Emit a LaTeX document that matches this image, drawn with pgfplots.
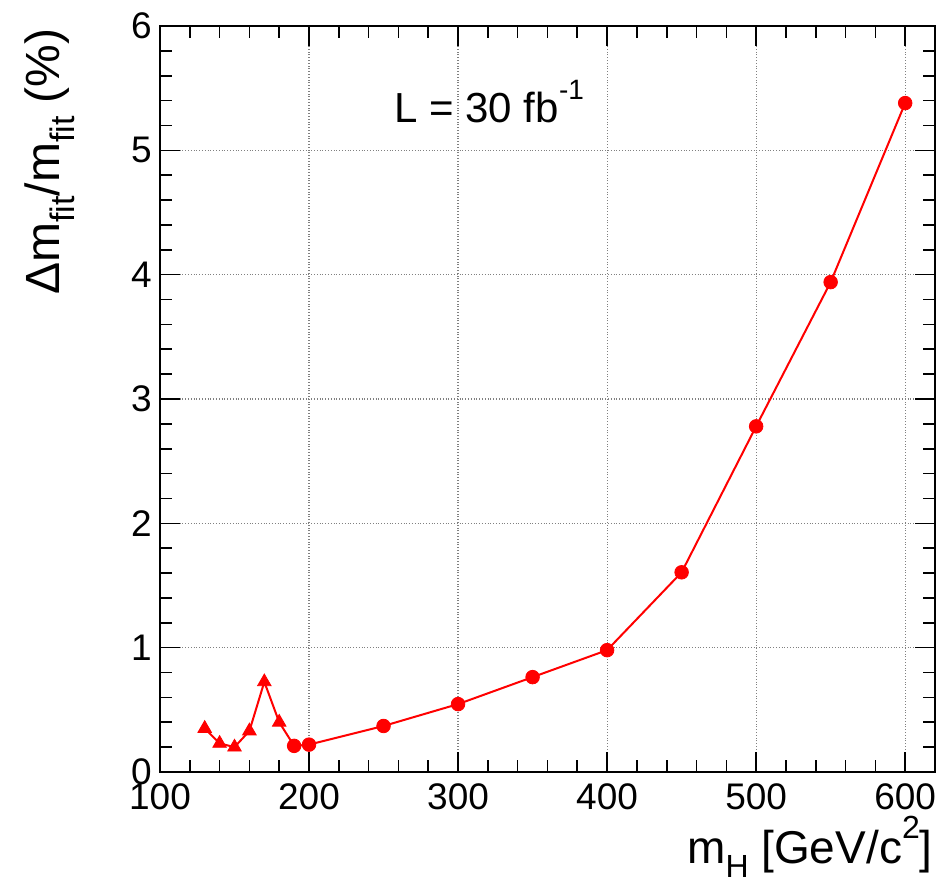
\documentclass[border=0pt]{standalone}
\usepackage{pgfplots}
\pgfplotsset{compat=1.18}
\usepackage{fontspec}
\setmainfont{Liberation Sans}
\newcommand\subs[2]{\raisebox{-0.3em}{\fontsize{#2}{#2}\selectfont #1}}
\newcommand\sups[2]{\raisebox{0.55em}{\fontsize{#2}{#2}\selectfont #1}}
\begin{document}
\begin{tikzpicture}
\useasboundingbox (-80pt,-54.5pt) rectangle (394.5pt,386pt);
\begin{axis}[
  at={(0,0)}, anchor=south west,
  scale only axis, width=387.5pt, height=373pt,
  xmin=100, xmax=620, ymin=0, ymax=6,
  xtick={100,200,...,600}, ytick={0,1,...,6},
  minor x tick num=4, minor y tick num=4,
  tick pos=both, tick align=inside,
  major tick length=10pt, minor tick length=6pt,
  every tick/.style={black, line width=0.8pt},
  axis line style={black, line width=1pt},
  grid=major,
  major grid style={densely dotted, gray, line width=0.6pt},
  /pgf/number format/assume math mode=true,
  xticklabel style={font=\fontsize{18.5}{18.5}\selectfont, inner sep=0pt, yshift=-5.5pt},
  yticklabel style={font=\fontsize{18.5}{18.5}\selectfont, inner sep=0pt, xshift=-4pt},
  clip=false,
]
\addplot[red, line width=1pt, no marks] coordinates {
 (130,0.35) (140,0.23) (150,0.20) (160,0.33) (170,0.725) (180,0.40)
 (190,0.21) (200,0.22) (250,0.37) (300,0.546) (350,0.763) (400,0.98)
 (450,1.606) (500,2.78) (550,3.94) (600,5.38)
};
\addplot[red, only marks, mark=triangle*, mark size=3.9pt] coordinates {
 (130,0.35) (140,0.23) (150,0.20) (160,0.33) (170,0.725) (180,0.40)
};
\addplot[red, only marks, mark=*, mark size=3.4pt] coordinates {
 (190,0.21) (200,0.22) (250,0.37) (300,0.546) (350,0.763) (400,0.98)
 (450,1.606) (500,2.78) (550,3.94) (600,5.38)
};
\node[anchor=base west, inner sep=0pt, font=\fontsize{21}{21}\selectfont] at (axis cs:257,5.22) {L = 30 fb\sups{-1}{14}};
\node[anchor=base east, inner sep=0pt, font=\fontsize{23}{23}\selectfont] at ([xshift=-1pt,yshift=-46pt]rel axis cs:1,0) {m\subs{H}{16} [GeV/c\sups{2}{16}]};
\node[rotate=90, anchor=base east, inner sep=0pt, font=\fontsize{24}{24}\selectfont] at ([xshift=-50pt,yshift=-1pt]rel axis cs:0,1) {Δm\subs{fit}{17}/m\subs{fit}{17} (\%)};
\end{axis}
\end{tikzpicture}
\end{document}
